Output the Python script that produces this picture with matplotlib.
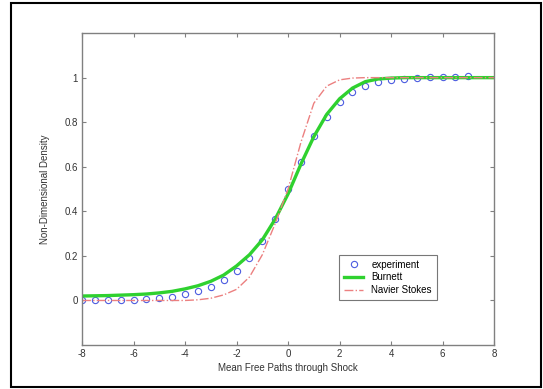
import matplotlib
matplotlib.use('Agg')
import matplotlib.pyplot as plt
from matplotlib.patches import Rectangle
import numpy as np

plt.rcParams['font.family'] = ['Liberation Sans', 'DejaVu Sans']
plt.rcParams['axes.unicode_minus'] = False

# experiment: measured density profile
x_exp = [-8, -7.5, -7, -6.5, -6, -5.5, -5, -4.5, -4, -3.5, -3, -2.5, -2, -1.5, -1,
         -0.5, 0, 0.5, 1, 1.5, 2, 2.5, 3, 3.5, 4, 4.5, 5, 5.5, 6, 6.5, 7]
rho_exp = [0.0, 0.0, 0.0, 0.002, 0.003, 0.006, 0.009, 0.016, 0.03, 0.043, 0.061,
           0.09, 0.132, 0.19, 0.265, 0.367, 0.502, 0.622, 0.739, 0.825, 0.89,
           0.936, 0.964, 0.981, 0.99, 0.996, 1.0, 1.003, 1.003, 1.004, 1.006]

# model curves
x_mod = [-8, -7.5, -7, -6.5, -6, -5.5, -5, -4.5, -4, -3.5, -3, -2.5, -2, -1.5, -1,
         -0.5, 0, 0.5, 1, 1.5, 2, 2.5, 3, 3.5, 4, 4.5, 5, 5.5, 6, 6.5, 7, 7.5, 8]
rho_burnett = [0.02, 0.021, 0.022, 0.024, 0.026, 0.029, 0.034, 0.041, 0.052, 0.066,
               0.086, 0.114, 0.155, 0.205, 0.272, 0.365, 0.478, 0.612, 0.735, 0.835,
               0.905, 0.953, 0.982, 0.994, 0.998, 1.0, 1.0, 1.0, 1.0, 1.0, 1.0, 1.0, 1.0]
rho_ns = [0.0, 0.0, 0.0, 0.0, 0.0, 0.0, 0.0, 0.0, 0.0, 0.003, 0.01, 0.025, 0.05,
          0.105, 0.205, 0.345, 0.5, 0.71, 0.885, 0.962, 0.99, 0.998, 1.0, 1.0, 1.0,
          1.0, 1.0, 1.0, 1.0, 1.0, 1.0, 1.0, 1.0]

xticks = [-8, -6, -4, -2, 0, 2, 4, 6, 8]
yticks = [0, 0.2, 0.4, 0.6, 0.8, 1]

fig = plt.figure(figsize=(5.43, 3.89), dpi=100)
ax = fig.add_axes([0.151, 0.113, 0.759, 0.802])

ax.plot(x_exp, rho_exp, 'o', mfc='none', mec='#4c5ce0', ms=4.5, mew=0.8, label='experiment')
ax.plot(x_mod, rho_burnett, '-', color='#2fd12f', lw=2.4, label='Burnett')
ax.plot(x_mod, rho_ns, '-.', color='#ec8080', lw=1.0, label='Navier Stokes')

ax.set_xlim(-8, 8)
ax.set_ylim(-0.2, 1.2)
ax.set_xticks(xticks)
ax.set_xticklabels([str(t) for t in xticks])
ax.set_yticks(yticks)
ax.set_yticklabels(['0', '0.2', '0.4', '0.6', '0.8', '1'])
ax.tick_params(direction='in', top=True, right=True, length=3, width=0.8,
               colors='#808080', labelcolor='#333333', labelsize=7, pad=3)
for s in ax.spines.values():
    s.set_color('#808080')
    s.set_linewidth(1.0)

ax.set_xlabel('Mean Free Paths through Shock', fontsize=7, color='#333333', labelpad=3)
ax.set_ylabel('Non-Dimensional Density', fontsize=7, color='#333333', labelpad=10)

leg = ax.legend(loc='lower right', bbox_to_anchor=(0.872, 0.128), fontsize=7,
                frameon=True, fancybox=False, edgecolor='#555555',
                handlelength=2.0, borderpad=0.5, labelspacing=0.3)
leg.get_frame().set_linewidth(0.8)

# outer frame around the whole picture
fig.add_artist(Rectangle((0.02, 0.004), 0.977, 0.988, transform=fig.transFigure,
                         fill=False, edgecolor='black', lw=1.5))

fig.savefig('out.png', dpi=100)
